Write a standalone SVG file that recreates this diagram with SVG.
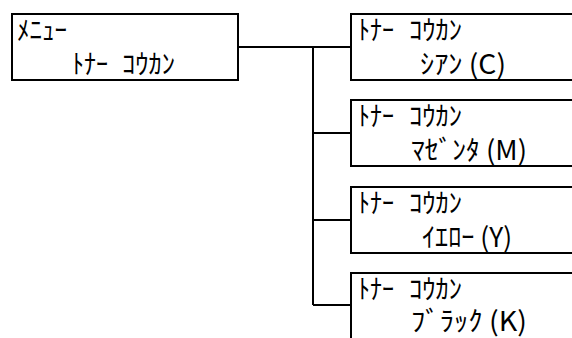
<svg xmlns="http://www.w3.org/2000/svg" width="572" height="338" viewBox="0 0 572 338">
<style>
.box{fill:#fff;stroke:#000;stroke-width:2}
.t{font-family:"Noto Sans CJK JP","Noto Sans CJK SC",sans-serif;font-size:27px;fill:#000}
.c{fill:none;stroke:#000;stroke-width:2}
</style>
<rect width="572" height="338" fill="#fff"/>
<g id="connectors">
<path class="c" d="M238 47H351M313 47V305M313 133H351M313 220H351M313 305H351"/>
</g>
<g id="menu">
<rect class="box" x="12" y="14" width="226" height="66"/>
<text class="t" x="17" y="40" textLength="50" lengthAdjust="spacingAndGlyphs">ﾒﾆｭｰ</text>
<text class="t" y="74"><tspan x="72" textLength="36" lengthAdjust="spacingAndGlyphs">ﾄﾅｰ</tspan> <tspan x="122" textLength="53" lengthAdjust="spacingAndGlyphs">ｺｳｶﾝ</tspan></text>
</g>
<g id="cyan">
<rect class="box" x="351" y="14" width="240" height="66"/>
<text class="t" y="40"><tspan x="358" textLength="36" lengthAdjust="spacingAndGlyphs">ﾄﾅｰ</tspan> <tspan x="409" textLength="53" lengthAdjust="spacingAndGlyphs">ｺｳｶﾝ</tspan></text>
<text class="t" x="420" y="74" textLength="86" lengthAdjust="spacingAndGlyphs">ｼｱﾝ (C)</text>
</g>
<g id="magenta">
<rect class="box" x="351" y="100" width="240" height="66"/>
<text class="t" y="126"><tspan x="358" textLength="36" lengthAdjust="spacingAndGlyphs">ﾄﾅｰ</tspan> <tspan x="409" textLength="53" lengthAdjust="spacingAndGlyphs">ｺｳｶﾝ</tspan></text>
<text class="t" x="411" y="160" textLength="116" lengthAdjust="spacingAndGlyphs">ﾏｾﾞﾝﾀ (M)</text>
</g>
<g id="yellow">
<rect class="box" x="351" y="187" width="240" height="66"/>
<text class="t" y="213"><tspan x="358" textLength="36" lengthAdjust="spacingAndGlyphs">ﾄﾅｰ</tspan> <tspan x="409" textLength="53" lengthAdjust="spacingAndGlyphs">ｺｳｶﾝ</tspan></text>
<text class="t" x="422" y="247" textLength="90" lengthAdjust="spacingAndGlyphs">ｲｴﾛｰ (Y)</text>
</g>
<g id="black">
<rect class="box" x="351" y="273" width="240" height="80"/>
<text class="t" y="299"><tspan x="358" textLength="36" lengthAdjust="spacingAndGlyphs">ﾄﾅｰ</tspan> <tspan x="409" textLength="53" lengthAdjust="spacingAndGlyphs">ｺｳｶﾝ</tspan></text>
<text class="t" x="411" y="331" textLength="116" lengthAdjust="spacingAndGlyphs">ﾌﾞﾗｯｸ (K)</text>
</g>
</svg>
